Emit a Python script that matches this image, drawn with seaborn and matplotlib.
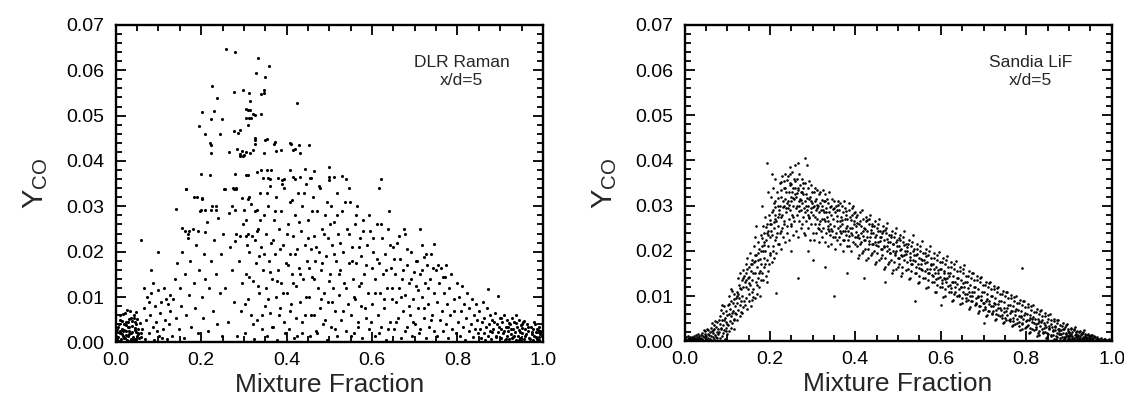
import matplotlib.pyplot as plt
import matplotlib.ticker as mticker
import pandas as pd
import seaborn as sns

# Points: (mixture fraction x 1000, Y_CO x 10000)

# ---- left panel, DLR Raman x/d=5 ----
dlr_rich = [
    (3, 5), (5, 12), (8, 3), (10, 20), (12, 8), (14, 30), (16, 15), (18, 2), (20, 40), (22, 10),
    (24, 25), (26, 6), (28, 45), (30, 18), (32, 35), (34, 4), (36, 55), (38, 22), (40, 12), (42, 60),
    (44, 28), (46, 7), (48, 40), (50, 15), (52, 30), (55, 10), (58, 20), (6, 35), (9, 50), (13, 1),
    (17, 25), (21, 65), (25, 38), (29, 14), (33, 70), (37, 48), (41, 5), (45, 32), (49, 52), (53, 18),
    (2, 22), (4, 9), (7, 40), (11, 60), (15, 18), (19, 28), (23, 44), (27, 72), (31, 26), (35, 8),
    (39, 36), (43, 55), (47, 68), (51, 20), (56, 42), (60, 12), (1, 15), (19, 10), (27, 3), (35, 20),
    (62, 30), (65, 75), (68, 8), (71, 50), (74, 100), (77, 20), (80, 60), (83, 110), (86, 35), (89, 5),
    (92, 80), (95, 45), (98, 115), (101, 15), (104, 65), (107, 90), (110, 30), (113, 120), (116, 50), (119, 8),
    (122, 85), (125, 40), (128, 105), (66, 120), (78, 90), (88, 130), (96, 25), (108, 10), (118, 95), (126, 70),
    (132, 15), (135, 95), (138, 140), (141, 55), (144, 175), (147, 30), (150, 120), (153, 80), (156, 200), (159, 10),
    (162, 150), (165, 60), (168, 230), (171, 105), (174, 180), (177, 35), (180, 250), (183, 130), (186, 75), (189, 215),
    (192, 20), (195, 160), (198, 290), (201, 100), (204, 55), (207, 195), (210, 140), (213, 265), (216, 25), (219, 120),
    (222, 180), (225, 300), (228, 70), (231, 225), (234, 150), (237, 40), (240, 275), (243, 110), (246, 195), (249, 15),
    (100, 200), (82, 160), (60, 225), (140, 295), (190, 320), (202, 318), (234, 300), (272, 301), (296, 318), (310, 316),
    (165, 339), (255, 338), (275, 340), (281, 340), (183, 320), (203, 316), (200, 292), (210, 292), (224, 292), (235, 292),
    (278, 291), (300, 292), (330, 292), (156, 252), (162, 245), (171, 245), (170, 238), (192, 245), (208, 244), (252, 238),
    (280, 224), (290, 234), (304, 234), (310, 238), (330, 245),
    (14, 48), (23, 16), (31, 52), (38, 8), (44, 46), (9, 26), (16, 62), (29, 34), (47, 24), (4, 30),
]

dlr_spike = [
    (258, 646), (278, 641), (334, 626), (328, 593), (225, 565), (277, 553), (299, 557), (236, 538), (314, 532), (203, 509),
    (229, 511), (304, 515), (310, 513), (224, 492), (248, 493), (306, 494), (311, 495), (316, 494), (310, 480), (194, 477),
    (210, 459), (243, 460), (276, 467), (285, 462), (290, 468), (325, 450), (221, 439), (326, 438), (222, 435), (283, 426),
    (296, 423), (305, 420), (223, 418), (264, 419), (314, 418), (290, 415), (290, 411), (300, 414), (298, 410), (199, 372),
    (221, 368), (278, 372), (305, 370), (310, 370), (330, 376), (164, 338), (254, 338), (276, 339), (282, 339),
    (359, 609), (350, 585), (347, 556), (313, 549), (346, 550), (341, 547), (424, 528), (315, 513), (322, 503), (326, 502),
    (340, 504), (325, 446), (350, 446), (353, 448), (372, 442), (370, 437), (407, 439), (410, 437), (430, 435), (453, 436),
    (321, 424), (375, 423), (388, 424), (415, 425), (420, 426), (347, 418), (432, 418), (500, 387), (340, 380), (353, 381),
    (364, 381), (408, 381), (443, 383), (465, 379), (530, 367), (345, 363), (357, 363), (360, 360), (380, 362), (394, 360),
    (390, 359), (415, 364), (420, 360), (432, 364), (454, 363), (458, 362), (500, 364), (510, 364), (500, 359), (540, 360),
    (620, 360), (546, 340), (617, 340), (640, 290), (674, 249), (713, 250), (746, 218), (755, 170), (773, 170), (872, 117),
    (896, 102), (765, 145), (722, 188),
]

dlr_cloud = [
    (255, 120), (262, 45), (268, 210), (271, 160), (276, 90), (281, 240), (284, 15), (288, 180), (293, 70), (296, 130),
    (299, 260), (266, 285),
    (302, 20), (304, 150), (306, 270), (309, 95), (311, 200), (313, 320), (316, 60), (318, 235), (321, 135), (323, 8),
    (326, 290), (328, 175), (331, 50), (333, 250), (336, 110), (338, 330), (341, 210), (343, 30), (345, 160), (347, 280),
    (349, 80), (335, 190),
    (351, 240), (352, 120), (354, 15), (356, 300), (358, 180), (360, 65), (362, 345), (364, 220), (366, 140), (368, 35),
    (370, 270), (372, 195), (374, 100), (376, 320), (378, 5), (380, 160), (382, 250), (384, 75), (386, 290), (388, 130),
    (391, 215), (393, 45), (395, 340), (398, 175),
    (401, 110), (403, 260), (405, 30), (407, 195), (409, 310), (411, 85), (413, 150), (415, 235), (417, 10), (419, 280),
    (421, 125), (423, 55), (425, 205), (427, 330), (429, 165), (431, 90), (433, 245), (435, 20), (437, 300), (439, 140),
    (442, 215), (444, 60), (446, 350), (448, 180),
    (451, 270), (453, 100), (455, 15), (457, 205), (459, 145), (461, 320), (463, 60), (465, 235), (467, 180), (469, 25),
    (471, 290), (473, 120), (475, 200), (477, 75), (479, 340), (481, 160), (483, 250), (485, 40), (487, 110), (489, 280),
    (492, 190), (494, 5), (496, 230), (498, 90),
    (501, 150), (503, 300), (505, 35), (507, 215), (509, 120), (511, 265), (513, 70), (515, 180), (517, 330), (519, 15),
    (521, 240), (523, 105), (525, 160), (527, 50), (530, 290), (532, 200), (535, 130), (538, 25), (541, 250), (544, 85),
    (546, 175), (549, 310),
    (551, 60), (553, 210), (555, 140), (557, 20), (559, 260), (561, 95), (563, 175), (565, 300), (567, 45), (569, 125),
    (571, 230), (573, 80), (575, 190), (577, 10), (579, 270), (582, 150), (585, 55), (588, 215), (591, 110), (594, 30),
    (596, 245), (599, 165),
    (601, 85), (603, 200), (606, 15), (608, 140), (611, 260), (613, 60), (616, 175), (618, 110), (621, 35), (623, 230),
    (626, 150), (628, 75), (631, 195), (633, 5), (636, 120), (638, 250), (641, 45), (644, 165), (646, 95), (649, 210),
    (651, 30), (653, 150), (656, 90), (658, 220), (661, 55), (663, 120), (666, 185), (668, 10), (671, 140), (673, 70),
    (676, 240), (678, 105), (681, 35), (683, 170), (686, 130), (688, 60), (691, 200), (693, 15), (696, 95), (699, 155),
    (701, 40), (703, 125), (706, 180), (708, 75), (711, 20), (713, 150), (716, 100), (718, 215), (721, 55), (723, 130),
    (726, 10), (728, 170), (731, 85), (733, 35), (736, 140), (738, 195), (741, 60), (744, 110), (746, 25), (749, 160),
    (751, 90), (753, 15), (756, 130), (758, 50), (761, 165), (763, 70), (766, 25), (768, 110), (771, 145), (773, 40),
    (776, 85), (778, 10), (781, 120), (783, 60), (786, 150), (788, 30), (791, 95), (793, 70), (796, 20), (798, 130),
    (801, 45), (803, 100), (806, 15), (808, 70), (811, 125), (813, 35), (816, 85), (818, 5), (821, 55), (823, 110),
    (826, 25), (828, 75), (831, 40), (833, 95), (836, 12), (838, 60), (841, 30), (844, 85), (846, 50), (849, 20),
    (303, 85), (307, 215), (312, 145), (317, 305), (322, 40), (327, 225), (332, 125), (337, 270), (342, 60), (348, 195),
    (353, 330), (357, 95), (361, 155), (365, 35), (369, 225), (373, 290), (377, 135), (381, 60), (385, 205), (389, 350),
    (392, 110), (396, 20), (400, 240), (404, 170), (408, 70), (412, 315), (416, 130), (420, 195), (424, 15), (428, 265),
    (432, 150), (436, 45), (440, 330), (445, 100), (449, 230), (452, 165), (456, 60), (460, 290), (464, 140), (468, 210),
    (472, 20), (476, 345), (480, 95), (484, 175), (488, 240), (491, 50), (495, 310), (499, 135), (502, 260), (506, 90),
    (510, 195), (514, 30), (518, 280), (522, 150), (526, 220), (531, 70), (536, 310), (540, 120), (545, 240), (550, 15),
    (554, 180), (558, 100), (562, 280), (566, 35), (570, 210), (574, 130), (578, 245), (583, 75), (587, 170), (592, 280),
    (597, 45), (602, 230), (607, 110), (612, 185), (617, 20), (622, 260), (627, 95), (632, 160), (637, 30), (642, 215),
    (647, 120), (652, 185), (657, 45), (662, 235), (667, 100), (672, 160), (677, 25), (682, 205), (687, 80), (692, 140),
    (697, 45), (702, 180), (707, 115), (712, 30), (717, 160), (722, 75), (727, 195), (732, 120), (737, 50), (742, 165),
]

dlr_lean = [
    (851, 70), (853, 30), (855, 10), (857, 45), (859, 90), (861, 20), (863, 55), (865, 5), (867, 35), (869, 75),
    (871, 15), (873, 40), (875, 60), (877, 25), (879, 8), (881, 50), (884, 30), (887, 65), (890, 12), (893, 40),
    (896, 22), (899, 55),
    (901, 30), (903, 10), (905, 45), (907, 20), (909, 60), (911, 5), (913, 35), (915, 15), (917, 50), (919, 25),
    (921, 8), (923, 40), (925, 18), (927, 55), (929, 30), (931, 12), (933, 45), (935, 22), (937, 5), (939, 35),
    (941, 15), (943, 50), (945, 28), (947, 10), (949, 38), (951, 20), (953, 45), (955, 8), (957, 30), (959, 15),
    (962, 40), (965, 25), (968, 10), (971, 35), (974, 18), (976, 5), (978, 30), (980, 15), (982, 40), (984, 22),
    (986, 8), (988, 28), (990, 12), (992, 35), (994, 18),
    (880, 22), (885, 45), (891, 15), (897, 35), (903, 55), (908, 25), (914, 8), (920, 42), (926, 30), (932, 15),
    (938, 60), (944, 5), (950, 32), (956, 48), (961, 18), (966, 35), (970, 8), (975, 22), (979, 45), (983, 12),
    (987, 30), (991, 6), (994, 25), (997, 14), (960, 2), (952, 40), (946, 22), (936, 42), (928, 10), (918, 35),
]

# ---- right panel, Sandia LiF x/d=5 ----
lif_rich = [
    (1, 2), (2, 6), (3, 1), (4, 9), (5, 3), (6, 0), (7, 5), (8, 11), (9, 2), (10, 7),
    (11, 1), (12, 4), (13, 9), (14, 0), (15, 6), (16, 3), (17, 10), (18, 1), (19, 5), (20, 8),
    (21, 2), (22, 12), (23, 5), (24, 0), (25, 8), (26, 3), (27, 14), (28, 6), (29, 1), (30, 10),
    (31, 4), (32, 15), (33, 7), (34, 2), (35, 11), (36, 5), (37, 0), (38, 13), (39, 8), (40, 3),
    (41, 6), (42, 18), (43, 2), (44, 12), (45, 25), (46, 9), (47, 1), (48, 15), (49, 22), (50, 5),
    (51, 11), (52, 28), (53, 3), (54, 17), (55, 8), (56, 24), (57, 0), (58, 14), (59, 20), (60, 6),
    (61, 12), (62, 30), (63, 3), (64, 22), (65, 40), (66, 9), (67, 18), (68, 35), (69, 5), (70, 26),
    (71, 45), (72, 14), (73, 1), (74, 32), (75, 20), (76, 42), (77, 8), (78, 28), (79, 16), (80, 48),
    (66, 25), (74, 10),
    (81, 20), (82, 55), (83, 8), (84, 38), (85, 70), (86, 28), (87, 12), (88, 48), (89, 62), (90, 18),
    (91, 35), (92, 78), (93, 25), (94, 5), (95, 52), (96, 42), (97, 68), (98, 30), (99, 15), (100, 58),
    (88, 80), (96, 22),
    (101, 35), (102, 80), (103, 22), (104, 60), (105, 100), (106, 45), (107, 72), (108, 30), (109, 90), (110, 55),
    (111, 112), (112, 40), (113, 68), (114, 85), (115, 28), (116, 105), (117, 50), (118, 78), (119, 62), (120, 95),
    (108, 115), (115, 48),
    (121, 60), (122, 110), (123, 48), (124, 85), (125, 140), (126, 70), (127, 125), (128, 95), (129, 55), (130, 150),
    (131, 80), (132, 115), (133, 65), (134, 135), (135, 100), (136, 158), (137, 75), (138, 120), (139, 90), (140, 145),
    (126, 105), (134, 62),
    (141, 80), (142, 130), (143, 170), (144, 95), (145, 150), (146, 72), (147, 185), (148, 115), (149, 140), (150, 88),
    (151, 165), (152, 105), (153, 195), (154, 125), (155, 78), (156, 155), (157, 110), (158, 180), (159, 135), (160, 98),
    (145, 120), (150, 142), (155, 170), (158, 92),
    (161, 115), (162, 175), (163, 210), (164, 95), (165, 150), (166, 230), (167, 130), (168, 190), (169, 105), (170, 165),
    (171, 220), (172, 140), (173, 180), (174, 120), (175, 205), (176, 155), (177, 100), (178, 235), (179, 170), (180, 135),
    (165, 190), (170, 125), (175, 150), (178, 200),
    (181, 150), (182, 210), (183, 255), (184, 135), (185, 185), (186, 240), (187, 165), (188, 275), (189, 200), (190, 145),
    (191, 225), (192, 180), (193, 260), (194, 130), (195, 210), (196, 245), (197, 170), (198, 280), (199, 195), (200, 230),
    (184, 200), (188, 170), (192, 240), (196, 155), (199, 260), (186, 220),
    (168, 255), (182, 300), (196, 330), (194, 395),
    (86, 30), (93, 47), (99, 39), (104, 82), (111, 63), (117, 94), (123, 101), (129, 118), (133, 88), (138, 140),
    (143, 136), (147, 160), (152, 128), (157, 172), (161, 150), (166, 178), (171, 196), (176, 182), (181, 228), (185, 212),
    (190, 252), (195, 236),
]

lif_peak = [
    (201, 190), (202, 260), (203, 320), (204, 175), (205, 235), (206, 290), (207, 210), (208, 340), (209, 250), (210, 185),
    (211, 280), (212, 225), (213, 310), (214, 195), (215, 265), (216, 330), (217, 240), (218, 300), (219, 215), (220, 275),
    (203, 245), (206, 200), (209, 305), (212, 270), (215, 230), (218, 255), (205, 370), (212, 360),
    (221, 215), (222, 290), (223, 350), (224, 240), (225, 320), (226, 205), (227, 275), (228, 365), (229, 250), (230, 310),
    (231, 230), (232, 340), (233, 265), (234, 300), (235, 220), (236, 370), (237, 285), (238, 330), (239, 255), (240, 305),
    (223, 300), (226, 335), (229, 280), (232, 260), (235, 315), (238, 295), (227, 245), (233, 355),
    (241, 240), (242, 310), (243, 365), (244, 270), (245, 330), (246, 385), (247, 290), (248, 350), (249, 255), (250, 320),
    (251, 375), (252, 280), (253, 340), (254, 235), (255, 300), (256, 360), (257, 265), (258, 325), (259, 390), (260, 295),
    (243, 295), (246, 345), (249, 310), (252, 330), (255, 275), (258, 355), (244, 225), (250, 260), (256, 315), (247, 370),
    (261, 245), (262, 320), (263, 360), (264, 280), (265, 335), (266, 230), (267, 300), (268, 370), (269, 265), (270, 315),
    (271, 345), (272, 290), (273, 250), (274, 330), (275, 305), (276, 360), (277, 275), (278, 325), (279, 240), (280, 295),
    (263, 300), (266, 340), (269, 310), (272, 330), (275, 260), (278, 350), (265, 395),
    (281, 235), (282, 310), (283, 350), (284, 265), (285, 325), (286, 390), (287, 290), (288, 340), (289, 250), (290, 300),
    (291, 355), (292, 275), (293, 225), (294, 320), (295, 285), (296, 345), (297, 260), (298, 305), (299, 330), (300, 240),
    (284, 300), (288, 280), (292, 315), (296, 295), (283, 405), (290, 200),
    (301, 280), (302, 330), (303, 225), (304, 300), (305, 260), (306, 340), (307, 290), (308, 240), (309, 315), (310, 270),
    (311, 335), (312, 250), (313, 300), (314, 220), (315, 285), (316, 325), (317, 265), (318, 305), (319, 245), (320, 290),
    (305, 310), (310, 295), (315, 260), (318, 330),
    (321, 230), (322, 300), (323, 270), (324, 335), (325, 250), (326, 310), (327, 285), (328, 220), (329, 325), (330, 265),
    (331, 295), (332, 240), (333, 315), (334, 275), (335, 210), (336, 305), (337, 255), (338, 330), (339, 285), (340, 235),
    (325, 290), (330, 310), (335, 265), (338, 245),
    (200, 268), (204, 287), (209, 263), (213, 297), (218, 318), (222, 281), (226, 352), (231, 297), (236, 339), (241, 357),
    (245, 301), (250, 348), (254, 316), (259, 338), (263, 327), (268, 288), (273, 312), (277, 338), (282, 287), (287, 318),
    (291, 272), (296, 311), (301, 297), (306, 276), (311, 301), (316, 249), (321, 312), (326, 271), (331, 286), (336, 249),
    (340, 298),
]

lif_lean = [
    (341, 260), (342, 300), (343, 215), (344, 280), (345, 245), (346, 315), (347, 270), (348, 230), (349, 295), (350, 255),
    (351, 310), (352, 205), (353, 285), (354, 240), (355, 300), (356, 265), (357, 225), (358, 290), (359, 250), (360, 310),
    (361, 230), (362, 290), (363, 255), (364, 305), (365, 215), (366, 275), (367, 240), (368, 300), (369, 260), (370, 200),
    (371, 285), (372, 245), (373, 310), (374, 225), (375, 270), (376, 295), (377, 235), (378, 280), (379, 250), (380, 210),
    (365, 265), (375, 245),
    (381, 270), (383, 225), (385, 290), (387, 250), (389, 200), (391, 280), (393, 235), (395, 300), (397, 260), (399, 215),
    (382, 245), (384, 305), (386, 210), (388, 275), (390, 240), (392, 295), (394, 220), (396, 265), (398, 285), (400, 230),
    (401, 255), (403, 210), (405, 280), (407, 235), (409, 190), (411, 265), (413, 220), (415, 290), (417, 245), (419, 200),
    (402, 275), (404, 230), (406, 185), (408, 260), (410, 215), (412, 285), (414, 240), (416, 195), (418, 270), (420, 225),
    (421, 250), (423, 205), (425, 275), (427, 230), (429, 185), (431, 260), (433, 215), (435, 280), (437, 240), (439, 195),
    (422, 225), (424, 265), (426, 180), (428, 245), (430, 205), (432, 270), (434, 230), (436, 190), (438, 255), (440, 215),
    (441, 240), (443, 200), (445, 265), (447, 220), (449, 175), (451, 250), (453, 210), (455, 270), (457, 230), (459, 185),
    (442, 215), (444, 255), (446, 170), (448, 235), (450, 195), (452, 260), (454, 220), (456, 180), (458, 245), (460, 205),
    (461, 230), (463, 190), (465, 255), (467, 210), (469, 165), (471, 240), (473, 200), (475, 262), (477, 220), (479, 175),
    (462, 205), (464, 245), (466, 160), (468, 225), (470, 185), (472, 250), (474, 210), (476, 170), (478, 235), (480, 195),
    (481, 220), (483, 180), (485, 245), (487, 200), (489, 158), (491, 230), (493, 190), (495, 250), (497, 210), (499, 165),
    (482, 195), (484, 235), (486, 152), (488, 215), (490, 175), (492, 240), (494, 200), (496, 160), (498, 225), (500, 185),
    (501, 210), (503, 170), (505, 235), (507, 190), (509, 150), (511, 220), (513, 180), (515, 245), (517, 200), (519, 158),
    (502, 185), (504, 225), (506, 145), (508, 205), (510, 165), (512, 230), (514, 190), (518, 215),
    (521, 200), (523, 160), (525, 225), (527, 180), (529, 140), (531, 210), (533, 170), (535, 235), (537, 190), (539, 150),
    (522, 175), (524, 215), (526, 138), (528, 195), (530, 155), (532, 220), (534, 180), (538, 205),
    (541, 190), (543, 150), (545, 215), (547, 170), (549, 130), (551, 200), (553, 160), (555, 222), (557, 180), (559, 140),
    (542, 165), (544, 205), (546, 128), (548, 185), (550, 145), (552, 210), (554, 170), (558, 195),
    (561, 180), (563, 140), (565, 205), (567, 160), (569, 120), (571, 190), (573, 150), (575, 210), (577, 170), (579, 130),
    (562, 155), (564, 195), (566, 118), (568, 175), (570, 135), (572, 200), (574, 160), (578, 185),
    (581, 170), (583, 130), (585, 195), (587, 150), (589, 110), (591, 180), (593, 140), (595, 198), (597, 160), (599, 120),
    (582, 145), (584, 185), (586, 108), (588, 165), (590, 125), (592, 190), (594, 150), (598, 175),
    (601, 160), (603, 120), (605, 185), (607, 140), (609, 100), (611, 170), (613, 130), (615, 188), (617, 150), (619, 110),
    (602, 135), (604, 175), (606, 98), (608, 155), (610, 115), (612, 180), (614, 140), (618, 165),
    (621, 150), (623, 110), (625, 175), (627, 130), (629, 92), (631, 160), (633, 120), (635, 178), (637, 140), (639, 100),
    (622, 125), (624, 165), (626, 90), (628, 145), (630, 105), (632, 170), (634, 130), (638, 155),
    (641, 140), (643, 100), (645, 165), (647, 120), (649, 85), (651, 150), (653, 110), (655, 168), (657, 130), (659, 90),
    (642, 115), (644, 155), (646, 82), (648, 135), (650, 95), (652, 160), (654, 120), (658, 145),
    (661, 130), (663, 92), (665, 155), (667, 110), (669, 75), (671, 140), (673, 100), (675, 152), (677, 120), (679, 80),
    (662, 105), (664, 145), (666, 72), (668, 125), (670, 88), (672, 150), (674, 110), (678, 135),
    (681, 120), (683, 85), (685, 145), (687, 100), (689, 66), (691, 130), (693, 92), (695, 142), (697, 110), (699, 70),
    (682, 95), (684, 135), (686, 63), (688, 115), (690, 78), (692, 140), (694, 100), (698, 125),
    (701, 110), (703, 75), (705, 132), (707, 90), (709, 58), (711, 120), (713, 82), (715, 130), (717, 100), (719, 62),
    (702, 85), (704, 125), (706, 55), (708, 105), (710, 68), (712, 128), (714, 90), (718, 115),
    (721, 100), (723, 66), (725, 122), (727, 82), (729, 50), (731, 110), (733, 74), (735, 120), (737, 90), (739, 55),
    (722, 78), (724, 115), (726, 48), (728, 95), (730, 60), (732, 118), (734, 82), (738, 105),
    (741, 90), (743, 58), (745, 112), (747, 74), (749, 42), (751, 100), (753, 66), (755, 110), (757, 80), (759, 48),
    (742, 70), (744, 105), (746, 40), (748, 86), (750, 52), (752, 108), (754, 74), (758, 95),
    (761, 80), (763, 50), (765, 102), (767, 66), (769, 36), (771, 90), (773, 58), (775, 100), (777, 72), (779, 40),
    (762, 62), (764, 95), (766, 33), (768, 78), (770, 45), (772, 98), (774, 66), (778, 85),
    (781, 70), (783, 42), (785, 92), (787, 56), (789, 28), (791, 80), (793, 50), (795, 90), (797, 62), (799, 32),
    (782, 55), (784, 85), (786, 25), (788, 68), (790, 38), (792, 88), (794, 58), (798, 75),
    (801, 60), (803, 34), (805, 82), (807, 48), (809, 20), (811, 70), (813, 42), (815, 80), (817, 54), (819, 24),
    (802, 46), (804, 75), (806, 18), (808, 58), (810, 30), (812, 78), (814, 50), (818, 65),
    (821, 50), (823, 26), (825, 72), (827, 40), (829, 14), (831, 60), (833, 34), (835, 70), (837, 46), (839, 18),
    (822, 38), (824, 65), (826, 12), (828, 50), (830, 22), (832, 68), (834, 42), (838, 55),
    (841, 40), (843, 20), (845, 62), (847, 32), (849, 10), (851, 50), (853, 26), (855, 60), (857, 38), (859, 12),
    (842, 30), (844, 55), (846, 8), (848, 42), (850, 16), (852, 58), (854, 34), (858, 46),
    (861, 32), (863, 14), (865, 50), (867, 24), (869, 6), (871, 40), (873, 18), (875, 48), (877, 28), (879, 8),
    (862, 22), (864, 44), (866, 4), (868, 34), (870, 12), (872, 46), (874, 26), (878, 36), (876, 16), (880, 2),
    (881, 24), (883, 10), (885, 40), (887, 18), (889, 4), (891, 32), (893, 12), (895, 38), (897, 22), (899, 6),
    (882, 16), (884, 34), (886, 2), (888, 26), (890, 8), (892, 36), (894, 18), (898, 28), (896, 12), (900, 20),
    (901, 18), (903, 6), (905, 30), (907, 12), (909, 2), (911, 24), (913, 8), (915, 32), (917, 16), (919, 4),
    (902, 12), (904, 26), (906, 0), (908, 20), (910, 6), (912, 28), (914, 14), (918, 22), (916, 10), (920, 3),
    (906, 16), (912, 4), (916, 20), (919, 11),
    (921, 14), (923, 4), (925, 22), (927, 8), (929, 1), (931, 18), (933, 6), (935, 24), (937, 12), (939, 2),
    (922, 9), (924, 20), (926, 0), (928, 15), (930, 5), (932, 21), (934, 10), (938, 16), (936, 3), (940, 7),
    (925, 12), (930, 17), (935, 8), (939, 13),
    (941, 10), (943, 3), (945, 15), (947, 6), (949, 0), (951, 12), (953, 4), (955, 14), (957, 8), (959, 1),
    (942, 7), (944, 13), (946, 2), (948, 10), (950, 5), (952, 14), (954, 7), (958, 11), (956, 3), (960, 9),
    (963, 4), (965, 10), (967, 2), (969, 6),
    (971, 5), (973, 1), (975, 7), (977, 3), (979, 0), (981, 6), (983, 2), (985, 4), (987, 0), (989, 3),
    (991, 1), (993, 4), (995, 0), (997, 2), (999, 1), (996, 3),
    (343, 248), (347, 292), (352, 231), (356, 277), (359, 301), (363, 244), (368, 268), (372, 223), (377, 289), (381, 256),
    (384, 232), (389, 268), (393, 251), (396, 284), (402, 241), (405, 262), (409, 228), (414, 256), (418, 233), (423, 249),
    (427, 268), (431, 222), (436, 246), (440, 259), (445, 231), (448, 212), (453, 243), (457, 221), (462, 239), (466, 208),
    (469, 247), (474, 226), (478, 203), (483, 231), (487, 215), (492, 196), (496, 219), (501, 229), (505, 201), (509, 188),
    (513, 213), (518, 192), (522, 208), (527, 186), (530, 171), (536, 199), (540, 178), (545, 192), (548, 163), (553, 181),
    (557, 157), (562, 173), (566, 189), (571, 151), (576, 168), (580, 146), (584, 160), (589, 137), (594, 158), (597, 142),
    (603, 129), (607, 151), (611, 137), (616, 122), (620, 144), (624, 118), (629, 132), (633, 109), (638, 126), (642, 103),
    (647, 119), (651, 128), (656, 104), (660, 96), (664, 117), (669, 101), (673, 88), (678, 108), (682, 83), (686, 97),
    (691, 77), (695, 91), (699, 84), (704, 71), (708, 93), (712, 66), (717, 78), (721, 61), (725, 84), (730, 69),
    (734, 57), (739, 73), (743, 51), (748, 64), (752, 47), (756, 59), (761, 44), (765, 68), (769, 52), (774, 38),
    (778, 49), (783, 33), (787, 54), (791, 41), (796, 29), (800, 45), (805, 36), (809, 51), (814, 27), (818, 40),
    (822, 31), (827, 19), (831, 44), (836, 28), (840, 21), (845, 35), (849, 18), (853, 29), (858, 14), (862, 24),
    (867, 31), (871, 10), (876, 22), (880, 15), (885, 26), (889, 9), (894, 17), (898, 5), (903, 13), (908, 8),
]

lif_stray = [
    (215, 107), (265, 140), (351, 101), (539, 88), (791, 163), (300, 180), (330, 165), (380, 150),
    (420, 140), (470, 130), (250, 200), (600, 80), (700, 40),
]

x_ticks = [0.0, 0.2, 0.4, 0.6, 0.8, 1.0]
y_ticks = [0.00, 0.01, 0.02, 0.03, 0.04, 0.05, 0.06, 0.07]
panel_notes = ["DLR Raman\nx/d=5", "Sandia LiF\nx/d=5"]


def to_frame(*groups):
    pts = [p for g in groups for p in g]
    return pd.DataFrame({
        "mix": [p[0] / 1000 for p in pts],
        "yco": [p[1] / 10000 for p in pts],
    })


sns.set_style("ticks")
plt.rcParams["font.family"] = ["Liberation Sans", "DejaVu Sans"]
plt.rcParams["mathtext.fontset"] = "custom"
plt.rcParams["mathtext.rm"] = "Liberation Sans"

fig = plt.figure(figsize=(11.24, 4.01), dpi=100)
ax1 = fig.add_axes([0.103, 0.146, 0.380, 0.792])
ax2 = fig.add_axes([0.609, 0.149, 0.380, 0.789])

frames = [to_frame(dlr_rich, dlr_spike, dlr_cloud, dlr_lean),
          to_frame(lif_rich, lif_peak, lif_lean, lif_stray)]
dot_sizes = [5, 3.5]

for ax, df, note, s in zip([ax1, ax2], frames, panel_notes, dot_sizes):
    sns.scatterplot(data=df, x="mix", y="yco", ax=ax, s=s, color="black",
                    linewidth=0, marker="o", legend=False)
    ax.set_xlim(0, 1)
    ax.set_ylim(0, 0.07)
    ax.set_xticks(x_ticks)
    ax.set_yticks(y_ticks)
    ax.xaxis.set_minor_locator(mticker.MultipleLocator(0.05))
    ax.yaxis.set_minor_locator(mticker.MultipleLocator(0.002))
    ax.xaxis.set_major_formatter(mticker.FormatStrFormatter("%.1f"))
    ax.yaxis.set_major_formatter(mticker.FormatStrFormatter("%.2f"))
    ax.tick_params(which="both", direction="in", top=True, right=True,
                   color="black", width=1.3, labelsize=14, labelcolor="black")
    ax.tick_params(which="major", length=7)
    ax.tick_params(which="minor", length=4)
    ax.tick_params(axis="y", pad=8)
    ax.tick_params(axis="x", pad=7)
    for sp in ax.spines.values():
        sp.set_linewidth(1.7)
        sp.set_color("black")
    ax.set_xlabel("Mixture Fraction", fontsize=19, labelpad=3)
    ax.set_ylabel(r"Y$_{\mathregular{CO}}$", fontsize=21, labelpad=12)
    ax.text(0.81, 0.0597, note, ha="center", va="center", fontsize=12.5,
            linespacing=1.25)

fig.savefig("out.png", dpi=100)
